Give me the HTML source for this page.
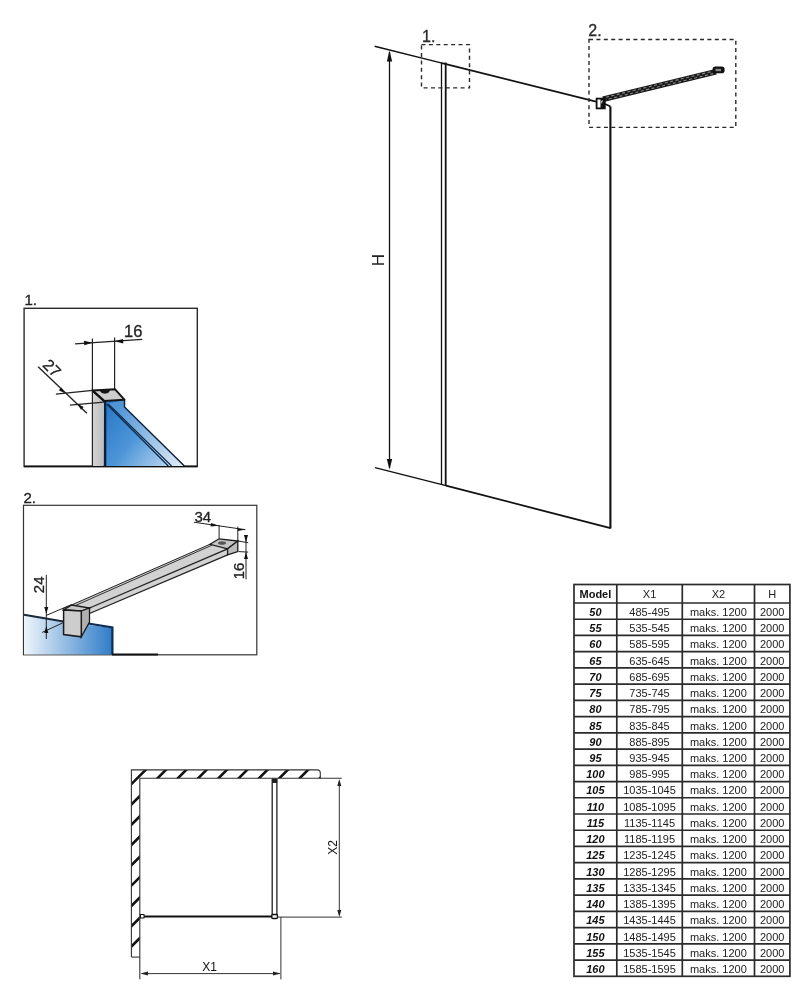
<!DOCTYPE html>
<html><head><meta charset="utf-8"><style>
html,body{margin:0;padding:0;background:#fff;}
svg{display:block;position:absolute;left:0;top:0;will-change:transform;}
text{font-family:"Liberation Sans",sans-serif;fill:#111;}
.t{font-size:11px;text-anchor:middle;fill:#222;}
.tb{font-size:11px;font-weight:bold;text-anchor:middle;}
.tbi{font-size:11px;font-weight:bold;font-style:italic;text-anchor:middle;}
.lbl{font-size:16px;fill:#2a2a2a;stroke:#2a2a2a;stroke-width:0.3;}
.dim{font-size:17px;text-anchor:middle;fill:#222;}
.plbl{font-size:15px;fill:#222;stroke:#222;stroke-width:0.35;}
.pdim{font-size:15px;fill:#222;stroke:#222;stroke-width:0.3;}
.fdim{font-size:12px;}
</style></head><body>
<svg width="812" height="1000" viewBox="0 0 812 1000">

<!-- main drawing -->
<line x1="374.6" y1="46.30" x2="442" y2="63.15" stroke="#111" stroke-width="1.45"/>
<line x1="442" y1="63.15" x2="596" y2="101.65" stroke="#111" stroke-width="1.8"/>
<line x1="375" y1="467.6" x2="446" y2="485.6" stroke="#111" stroke-width="1.45"/>
<line x1="446" y1="485.6" x2="610.5" y2="528.2" stroke="#111" stroke-width="1.8"/>
<line x1="441.5" y1="62.5" x2="441.5" y2="485" stroke="#111" stroke-width="1.3"/>
<line x1="445.7" y1="62.5" x2="445.7" y2="486" stroke="#111" stroke-width="1.8"/>
<line x1="610.4" y1="106.5" x2="610.4" y2="528.5" stroke="#111" stroke-width="2.1"/>
<line x1="604" y1="103.5" x2="610.5" y2="106.5" stroke="#111" stroke-width="1.8"/>
<!-- H dimension -->
<line x1="389.5" y1="52" x2="389.5" y2="468" stroke="#111" stroke-width="1.3"/>
<path d="M389.5 50.5 L386.8 61.5 L392.2 61.5 Z" fill="#111"/>
<path d="M389.5 469.6 L386.8 459 L392.2 459 Z" fill="#111"/>
<text x="0" y="0" class="dim" transform="translate(384.2,260) rotate(-90)">H</text>
<!-- dashed boxes -->
<rect x="421.5" y="44.6" width="48" height="43.3" fill="none" stroke="#2a2a2a" stroke-width="1.4" stroke-dasharray="4 3.4"/>
<text x="422" y="41.6" class="lbl">1.</text>
<rect x="589" y="39.5" width="146.8" height="87.9" fill="none" stroke="#2a2a2a" stroke-width="1.4" stroke-dasharray="4 3.4"/>
<text x="588.3" y="36.4" class="lbl">2.</text>
<!-- bracket bar -->
<line x1="603" y1="99.2" x2="716" y2="71.8" stroke="#1a1a1a" stroke-width="5.8"/>
<line x1="606" y1="97.2" x2="714" y2="71" stroke="#8a8a8a" stroke-width="1.1" stroke-dasharray="3 2.5"/>
<line x1="606" y1="99.6" x2="714" y2="73.4" stroke="#8a8a8a" stroke-width="1.1" stroke-dasharray="3 2.5" stroke-dashoffset="2.7"/>
<rect x="712.6" y="66.6" width="12" height="6.6" rx="2.8" fill="#111"/>
<rect x="715.5" y="68.8" width="5.5" height="2.4" fill="#888"/>
<!-- bracket block -->
<rect x="596.6" y="98.6" width="8.2" height="9.8" fill="#fff" stroke="#111" stroke-width="1.8"/>
<rect x="600.5" y="99" width="4.3" height="9.4" fill="#111"/>
<polygon points="601.2,101 603,100.3 601.5,104" fill="#fff"/>


<!-- Panel 1 -->
<defs>
<linearGradient id="g1" gradientUnits="userSpaceOnUse" x1="105" y1="410" x2="175" y2="466">
<stop offset="0" stop-color="#2a78c8"/><stop offset="0.45" stop-color="#4d95d8"/><stop offset="1" stop-color="#c4dcf2"/>
</linearGradient>
<linearGradient id="g1b" gradientUnits="userSpaceOnUse" x1="120" y1="405" x2="180" y2="466">
<stop offset="0" stop-color="#4f94d4"/><stop offset="1" stop-color="#dceaf6"/>
</linearGradient>
<linearGradient id="g2" x1="0" y1="0" x2="1" y2="0">
<stop offset="0" stop-color="#eef5fb"/><stop offset="1" stop-color="#2f7cc8"/>
</linearGradient>
<linearGradient id="gray1" x1="0" y1="0" x2="1" y2="0">
<stop offset="0" stop-color="#d4d4d4"/><stop offset="1" stop-color="#bdbdbd"/>
</linearGradient>
<clipPath id="wallclip">
<rect x="131.4" y="769.9" width="189" height="8.3"/>
<rect x="131.4" y="769.9" width="8.4" height="187.2"/>
</clipPath>
</defs>
<text x="24.5" y="305.2" class="plbl">1.</text>
<rect x="24.1" y="308.3" width="173.2" height="158.2" fill="none" stroke="#2a2a2a" stroke-width="1.4"/>
<line x1="24.1" y1="466.3" x2="197.3" y2="466.3" stroke="#111" stroke-width="1.8"/>
<!-- glass -->
<polygon points="104.5,401 124.5,400 124.5,407 184.4,466 104.5,466" fill="url(#g1)"/>
<polygon points="106.7,404 124.5,400 124.5,407 184.4,466 170,466" fill="url(#g1b)"/>
<polyline points="124.5,399.5 124.5,407 184.4,466" fill="none" stroke="#0d2440" stroke-width="1.5"/>
<line x1="106.7" y1="404" x2="168.3" y2="466" stroke="#0d2a4a" stroke-width="1.3"/>
<line x1="108.3" y1="404" x2="171.6" y2="466" stroke="#0d2a4a" stroke-width="1.1"/>
<line x1="104.9" y1="401" x2="104.9" y2="466" stroke="#06203e" stroke-width="2.8"/>
<!-- post side -->
<polygon points="92.6,391.4 104,401 103.5,466 92.6,466" fill="url(#gray1)"/>
<line x1="92.4" y1="338.6" x2="92.4" y2="466" stroke="#222" stroke-width="1.2"/>
<line x1="114.6" y1="337.5" x2="114.6" y2="389.2" stroke="#222" stroke-width="1.2"/>
<!-- cap top -->
<polygon points="92.4,390.5 114.9,389.2 124.4,399.7 104.1,400.9" fill="#cdcdcd" stroke="#161616" stroke-width="2" stroke-linejoin="round"/>
<path d="M100.1 390.2 Q100.8 393.3 105 393.2 Q109.2 393.3 109.6 390" fill="#111" stroke="#111" stroke-width="0.8"/>
<line x1="93" y1="391" x2="104.3" y2="401" stroke="#111" stroke-width="2.3"/>
<!-- dim 16 -->
<line x1="75.1" y1="343.8" x2="142.3" y2="339.4" stroke="#222" stroke-width="1.35"/>
<path d="M92.4 342.7 L84 340.7 L84.3 345.2 Z" fill="#111"/>
<path d="M114.6 341.2 L123 339 L123.3 343.4 Z" fill="#111"/>
<text x="124" y="337.3" class="pdim" style="font-size:16.5px">16</text>
<!-- dim 27 -->
<line x1="38.1" y1="366.7" x2="86.9" y2="413.3" stroke="#222" stroke-width="1.35"/>
<line x1="55.9" y1="394.1" x2="92.6" y2="390.4" stroke="#222" stroke-width="1.35"/>
<line x1="69.9" y1="405.1" x2="104" y2="402.2" stroke="#222" stroke-width="1.35"/>
<path d="M64.80 393.30 L58.79 390.19 L61.41 387.44 Z" fill="#111"/>
<path d="M77.60 403.80 L80.99 409.66 L83.61 406.91 Z" fill="#111"/>
<text x="0" y="0" class="pdim" style="font-size:16px" transform="translate(41.8,365.8) rotate(45)">27</text>

<!-- Panel 2 -->
<text x="23.5" y="503" class="plbl">2.</text>
<rect x="23.5" y="505.3" width="233.3" height="149.5" fill="none" stroke="#333" stroke-width="1.2"/>
<polygon points="24,615 63.6,621.5 81,624 112.4,628 112.4,654.6 24,654.6" fill="url(#g2)"/>
<line x1="24" y1="614.8" x2="63.6" y2="621.5" stroke="#1a2a3a" stroke-width="2"/>
<polyline points="85,623 112.4,627.5 112.4,654.6" fill="none" stroke="#0c2c52" stroke-width="2.2"/>
<line x1="112" y1="654.6" x2="158" y2="654.6" stroke="#111" stroke-width="2"/>
<!-- bar -->
<polygon points="71.7,604.5 209.9,544.3 227.6,548.8 237.8,541 237.8,551.6 227.6,554.9 89.5,613.5 89.5,608" fill="#d2d2d2"/>
<line x1="62.5" y1="609" x2="209.9" y2="544.3" stroke="#222" stroke-width="1"/>
<line x1="74.8" y1="605.8" x2="212" y2="545.2" stroke="#333" stroke-width="1"/>
<line x1="89.5" y1="608" x2="227.6" y2="548.8" stroke="#222" stroke-width="1.3"/>
<line x1="89.5" y1="613.5" x2="227.6" y2="554.9" stroke="#222" stroke-width="1.3"/>
<!-- right cap -->
<polygon points="209.9,544.3 219.1,538.8 237.8,541 227.6,548.8" fill="#c4c4c4" stroke="#1a1a1a" stroke-width="1.3"/>
<polygon points="227.6,548.8 237.8,541 237.8,551.6 227.6,554.9" fill="#bdbdbd" stroke="#1a1a1a" stroke-width="1.3"/>
<ellipse cx="222" cy="543" rx="4" ry="1.8" fill="#555"/>
<!-- left bracket -->
<polygon points="63.6,610 71.7,605 89.5,608 81.3,611" fill="#c8c8c8" stroke="#1a1a1a" stroke-width="1.3"/>
<polygon points="81.3,611 89.5,608 89.5,622 81.3,636.8" fill="#b0b0b0" stroke="#1a1a1a" stroke-width="1.3"/>
<polygon points="63.6,610 81.3,611 81.3,636.8 63.6,634.6" fill="#cdcdcd" stroke="#1a1a1a" stroke-width="1.5"/>
<!-- dim 34 -->
<line x1="193.8" y1="522.2" x2="245.4" y2="529.7" stroke="#222" stroke-width="1"/>
<line x1="219.1" y1="525" x2="219.1" y2="538.8" stroke="#222" stroke-width="1"/>
<line x1="237.8" y1="526.6" x2="237.8" y2="541" stroke="#222" stroke-width="1"/>
<path d="M219.1 525.8 L211 523 L210.5 526.5 Z" fill="#111"/>
<path d="M237.8 528.5 L245.5 529.6 L238 531 Z" fill="#111"/>
<text x="194.5" y="521.6" class="pdim">34</text>
<!-- dim 16 -->
<line x1="246" y1="535.5" x2="246" y2="579.3" stroke="#222" stroke-width="1"/>
<line x1="237.8" y1="541" x2="248.2" y2="542.7" stroke="#222" stroke-width="1"/>
<line x1="238.7" y1="551.6" x2="248.2" y2="552.1" stroke="#222" stroke-width="1"/>
<path d="M246 542.5 L244 535 L248 535 Z" fill="#111"/>
<path d="M246 552 L244 559 L248 559 Z" fill="#111"/>
<text x="0" y="0" class="pdim" transform="translate(243.5,571) rotate(-90)" text-anchor="middle">16</text>
<!-- dim 24 -->
<line x1="46.3" y1="574.8" x2="46.3" y2="639" stroke="#222" stroke-width="1"/>
<line x1="46.3" y1="615.4" x2="71.7" y2="604.5" stroke="#222" stroke-width="1"/>
<line x1="42.2" y1="632.4" x2="62.9" y2="622.8" stroke="#222" stroke-width="1"/>
<path d="M46.3 614 L44.3 607 L48.3 607 Z" fill="#111"/>
<path d="M46.3 626 L44.3 633 L48.3 633 Z" fill="#111"/>
<text x="0" y="0" class="pdim" transform="translate(43.5,584.8) rotate(-90)" text-anchor="middle">24</text>

<!-- Floor plan -->
<g clip-path="url(#wallclip)">
<line x1="100" y1="754.6" x2="94.6" y2="760" stroke="#111" stroke-width="2.6"/>
<line x1="100" y1="774.9" x2="114.9" y2="760" stroke="#111" stroke-width="2.6"/>
<line x1="100" y1="795.2" x2="135.2" y2="760" stroke="#111" stroke-width="2.6"/>
<line x1="100" y1="815.5" x2="155.5" y2="760" stroke="#111" stroke-width="2.6"/>
<line x1="100" y1="835.8" x2="175.8" y2="760" stroke="#111" stroke-width="2.6"/>
<line x1="100" y1="856.1" x2="196.1" y2="760" stroke="#111" stroke-width="2.6"/>
<line x1="100" y1="876.4" x2="216.4" y2="760" stroke="#111" stroke-width="2.6"/>
<line x1="100" y1="896.7" x2="236.7" y2="760" stroke="#111" stroke-width="2.6"/>
<line x1="100" y1="917.0" x2="257.0" y2="760" stroke="#111" stroke-width="2.6"/>
<line x1="100" y1="937.3" x2="277.3" y2="760" stroke="#111" stroke-width="2.6"/>
<line x1="100" y1="957.6" x2="297.6" y2="760" stroke="#111" stroke-width="2.6"/>
<line x1="100" y1="977.9" x2="317.9" y2="760" stroke="#111" stroke-width="2.6"/>
<line x1="100" y1="998.2" x2="338.2" y2="760" stroke="#111" stroke-width="2.6"/>
<line x1="100" y1="1018.5" x2="358.5" y2="760" stroke="#111" stroke-width="2.6"/>
<line x1="100" y1="1038.8" x2="378.8" y2="760" stroke="#111" stroke-width="2.6"/>
<line x1="100" y1="1059.1" x2="399.1" y2="760" stroke="#111" stroke-width="2.6"/>
<line x1="100" y1="1079.4" x2="419.4" y2="760" stroke="#111" stroke-width="2.6"/>
<line x1="100" y1="1099.7" x2="439.7" y2="760" stroke="#111" stroke-width="2.6"/>
<line x1="100" y1="1120.0" x2="460.0" y2="760" stroke="#111" stroke-width="2.6"/>
</g>
<path d="M131.4 957.1 L131.4 769.9 L317 769.9 Q320.3 769.9 320.3 773 L320.3 778.2" fill="none" stroke="#333" stroke-width="1.1"/>
<line x1="139.8" y1="778.2" x2="341.8" y2="778.2" stroke="#333" stroke-width="1.1"/>
<line x1="139.8" y1="778.2" x2="139.8" y2="979.3" stroke="#333" stroke-width="1.1"/>
<line x1="131.4" y1="957.1" x2="139.8" y2="957.1" stroke="#333" stroke-width="1.1"/>
<line x1="140" y1="916.5" x2="272" y2="916.5" stroke="#111" stroke-width="2.2"/>
<rect x="140.5" y="914.5" width="3.5" height="3.5" fill="#fff" stroke="#111" stroke-width="1"/>
<line x1="272.2" y1="779" x2="272.2" y2="918" stroke="#222" stroke-width="1.3"/>
<line x1="276.9" y1="779" x2="276.9" y2="918" stroke="#222" stroke-width="1.3"/>
<rect x="272" y="778.5" width="5.2" height="4.5" fill="#222"/>
<rect x="271.8" y="914.5" width="5.6" height="4" rx="1" fill="#fff" stroke="#111" stroke-width="1.4"/>
<line x1="277" y1="917.1" x2="341.9" y2="917.1" stroke="#333" stroke-width="1"/>
<line x1="280.9" y1="917" x2="280.9" y2="979.4" stroke="#333" stroke-width="1"/>
<line x1="339.3" y1="781" x2="339.3" y2="915" stroke="#333" stroke-width="1"/>
<path d="M339.3 779 L337.3 786 L341.3 786 Z" fill="#222"/>
<path d="M339.3 917 L337.3 910 L341.3 910 Z" fill="#222"/>
<line x1="142" y1="973.6" x2="280" y2="973.6" stroke="#333" stroke-width="1"/>
<path d="M140.5 973.6 L148 971.6 L148 975.6 Z" fill="#222"/>
<path d="M280.5 973.6 L273 971.6 L273 975.6 Z" fill="#222"/>
<text x="209.5" y="971.3" class="fdim" text-anchor="middle">X1</text>
<text x="0" y="0" class="fdim" transform="translate(337,847.5) rotate(-90)" text-anchor="middle">X2</text>

<rect x="574" y="584.5" width="215.89999999999998" height="391.79999999999995" fill="none" stroke="#2b2b2b" stroke-width="1.7"/>
<line x1="616.8" y1="584.5" x2="616.8" y2="976.3" stroke="#2b2b2b" stroke-width="1.7"/>
<line x1="682.3" y1="584.5" x2="682.3" y2="976.3" stroke="#2b2b2b" stroke-width="1.7"/>
<line x1="754.5" y1="584.5" x2="754.5" y2="976.3" stroke="#2b2b2b" stroke-width="1.7"/>
<line x1="574" y1="603.00" x2="789.9" y2="603.00" stroke="#2b2b2b" stroke-width="1.7"/>
<line x1="574" y1="619.23" x2="789.9" y2="619.23" stroke="#2b2b2b" stroke-width="1.7"/>
<line x1="574" y1="635.46" x2="789.9" y2="635.46" stroke="#2b2b2b" stroke-width="1.7"/>
<line x1="574" y1="651.69" x2="789.9" y2="651.69" stroke="#2b2b2b" stroke-width="1.7"/>
<line x1="574" y1="667.92" x2="789.9" y2="667.92" stroke="#2b2b2b" stroke-width="1.7"/>
<line x1="574" y1="684.15" x2="789.9" y2="684.15" stroke="#2b2b2b" stroke-width="1.7"/>
<line x1="574" y1="700.38" x2="789.9" y2="700.38" stroke="#2b2b2b" stroke-width="1.7"/>
<line x1="574" y1="716.61" x2="789.9" y2="716.61" stroke="#2b2b2b" stroke-width="1.7"/>
<line x1="574" y1="732.84" x2="789.9" y2="732.84" stroke="#2b2b2b" stroke-width="1.7"/>
<line x1="574" y1="749.07" x2="789.9" y2="749.07" stroke="#2b2b2b" stroke-width="1.7"/>
<line x1="574" y1="765.30" x2="789.9" y2="765.30" stroke="#2b2b2b" stroke-width="1.7"/>
<line x1="574" y1="781.53" x2="789.9" y2="781.53" stroke="#2b2b2b" stroke-width="1.7"/>
<line x1="574" y1="797.77" x2="789.9" y2="797.77" stroke="#2b2b2b" stroke-width="1.7"/>
<line x1="574" y1="814.00" x2="789.9" y2="814.00" stroke="#2b2b2b" stroke-width="1.7"/>
<line x1="574" y1="830.23" x2="789.9" y2="830.23" stroke="#2b2b2b" stroke-width="1.7"/>
<line x1="574" y1="846.46" x2="789.9" y2="846.46" stroke="#2b2b2b" stroke-width="1.7"/>
<line x1="574" y1="862.69" x2="789.9" y2="862.69" stroke="#2b2b2b" stroke-width="1.7"/>
<line x1="574" y1="878.92" x2="789.9" y2="878.92" stroke="#2b2b2b" stroke-width="1.7"/>
<line x1="574" y1="895.15" x2="789.9" y2="895.15" stroke="#2b2b2b" stroke-width="1.7"/>
<line x1="574" y1="911.38" x2="789.9" y2="911.38" stroke="#2b2b2b" stroke-width="1.7"/>
<line x1="574" y1="927.61" x2="789.9" y2="927.61" stroke="#2b2b2b" stroke-width="1.7"/>
<line x1="574" y1="943.84" x2="789.9" y2="943.84" stroke="#2b2b2b" stroke-width="1.7"/>
<line x1="574" y1="960.07" x2="789.9" y2="960.07" stroke="#2b2b2b" stroke-width="1.7"/>
<text x="595.4" y="598.35" class="tb">Model</text>
<text x="649.55" y="598.35" class="t">X1</text>
<text x="718.4" y="598.35" class="t">X2</text>
<text x="772.2" y="598.35" class="t">H</text>
<text x="595.4" y="615.92" class="tbi">50</text>
<text x="649.55" y="615.92" class="t">485-495</text>
<text x="718.4" y="615.92" class="t">maks. 1200</text>
<text x="772.2" y="615.92" class="t">2000</text>
<text x="595.4" y="632.15" class="tbi">55</text>
<text x="649.55" y="632.15" class="t">535-545</text>
<text x="718.4" y="632.15" class="t">maks. 1200</text>
<text x="772.2" y="632.15" class="t">2000</text>
<text x="595.4" y="648.38" class="tbi">60</text>
<text x="649.55" y="648.38" class="t">585-595</text>
<text x="718.4" y="648.38" class="t">maks. 1200</text>
<text x="772.2" y="648.38" class="t">2000</text>
<text x="595.4" y="664.61" class="tbi">65</text>
<text x="649.55" y="664.61" class="t">635-645</text>
<text x="718.4" y="664.61" class="t">maks. 1200</text>
<text x="772.2" y="664.61" class="t">2000</text>
<text x="595.4" y="680.84" class="tbi">70</text>
<text x="649.55" y="680.84" class="t">685-695</text>
<text x="718.4" y="680.84" class="t">maks. 1200</text>
<text x="772.2" y="680.84" class="t">2000</text>
<text x="595.4" y="697.07" class="tbi">75</text>
<text x="649.55" y="697.07" class="t">735-745</text>
<text x="718.4" y="697.07" class="t">maks. 1200</text>
<text x="772.2" y="697.07" class="t">2000</text>
<text x="595.4" y="713.30" class="tbi">80</text>
<text x="649.55" y="713.30" class="t">785-795</text>
<text x="718.4" y="713.30" class="t">maks. 1200</text>
<text x="772.2" y="713.30" class="t">2000</text>
<text x="595.4" y="729.53" class="tbi">85</text>
<text x="649.55" y="729.53" class="t">835-845</text>
<text x="718.4" y="729.53" class="t">maks. 1200</text>
<text x="772.2" y="729.53" class="t">2000</text>
<text x="595.4" y="745.76" class="tbi">90</text>
<text x="649.55" y="745.76" class="t">885-895</text>
<text x="718.4" y="745.76" class="t">maks. 1200</text>
<text x="772.2" y="745.76" class="t">2000</text>
<text x="595.4" y="761.99" class="tbi">95</text>
<text x="649.55" y="761.99" class="t">935-945</text>
<text x="718.4" y="761.99" class="t">maks. 1200</text>
<text x="772.2" y="761.99" class="t">2000</text>
<text x="595.4" y="778.22" class="tbi">100</text>
<text x="649.55" y="778.22" class="t">985-995</text>
<text x="718.4" y="778.22" class="t">maks. 1200</text>
<text x="772.2" y="778.22" class="t">2000</text>
<text x="595.4" y="794.45" class="tbi">105</text>
<text x="649.55" y="794.45" class="t">1035-1045</text>
<text x="718.4" y="794.45" class="t">maks. 1200</text>
<text x="772.2" y="794.45" class="t">2000</text>
<text x="595.4" y="810.68" class="tbi">110</text>
<text x="649.55" y="810.68" class="t">1085-1095</text>
<text x="718.4" y="810.68" class="t">maks. 1200</text>
<text x="772.2" y="810.68" class="t">2000</text>
<text x="595.4" y="826.91" class="tbi">115</text>
<text x="649.55" y="826.91" class="t">1135-1145</text>
<text x="718.4" y="826.91" class="t">maks. 1200</text>
<text x="772.2" y="826.91" class="t">2000</text>
<text x="595.4" y="843.14" class="tbi">120</text>
<text x="649.55" y="843.14" class="t">1185-1195</text>
<text x="718.4" y="843.14" class="t">maks. 1200</text>
<text x="772.2" y="843.14" class="t">2000</text>
<text x="595.4" y="859.37" class="tbi">125</text>
<text x="649.55" y="859.37" class="t">1235-1245</text>
<text x="718.4" y="859.37" class="t">maks. 1200</text>
<text x="772.2" y="859.37" class="t">2000</text>
<text x="595.4" y="875.60" class="tbi">130</text>
<text x="649.55" y="875.60" class="t">1285-1295</text>
<text x="718.4" y="875.60" class="t">maks. 1200</text>
<text x="772.2" y="875.60" class="t">2000</text>
<text x="595.4" y="891.83" class="tbi">135</text>
<text x="649.55" y="891.83" class="t">1335-1345</text>
<text x="718.4" y="891.83" class="t">maks. 1200</text>
<text x="772.2" y="891.83" class="t">2000</text>
<text x="595.4" y="908.06" class="tbi">140</text>
<text x="649.55" y="908.06" class="t">1385-1395</text>
<text x="718.4" y="908.06" class="t">maks. 1200</text>
<text x="772.2" y="908.06" class="t">2000</text>
<text x="595.4" y="924.29" class="tbi">145</text>
<text x="649.55" y="924.29" class="t">1435-1445</text>
<text x="718.4" y="924.29" class="t">maks. 1200</text>
<text x="772.2" y="924.29" class="t">2000</text>
<text x="595.4" y="940.52" class="tbi">150</text>
<text x="649.55" y="940.52" class="t">1485-1495</text>
<text x="718.4" y="940.52" class="t">maks. 1200</text>
<text x="772.2" y="940.52" class="t">2000</text>
<text x="595.4" y="956.75" class="tbi">155</text>
<text x="649.55" y="956.75" class="t">1535-1545</text>
<text x="718.4" y="956.75" class="t">maks. 1200</text>
<text x="772.2" y="956.75" class="t">2000</text>
<text x="595.4" y="972.98" class="tbi">160</text>
<text x="649.55" y="972.98" class="t">1585-1595</text>
<text x="718.4" y="972.98" class="t">maks. 1200</text>
<text x="772.2" y="972.98" class="t">2000</text>
</svg>
</body></html>
